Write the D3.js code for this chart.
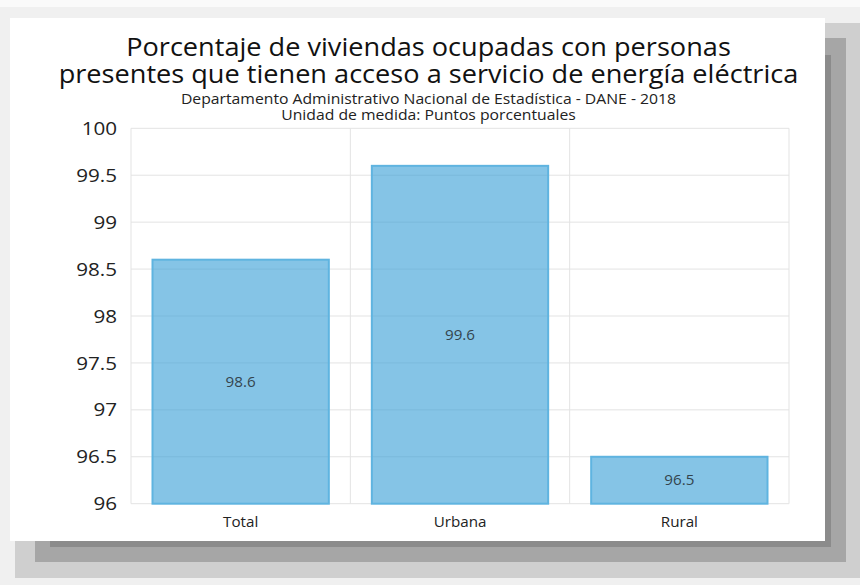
<!DOCTYPE html>
<html>
<head>
<meta charset="utf-8">
<script src="https://cdn.jsdelivr.net/npm/d3@7"></script>
<style>
  html, body { margin: 0; padding: 0; background: #fafafa; }
  svg { display: block; font-family: "Open Sans", "Noto Sans", sans-serif; }
</style>
</head>
<body>
<svg id="chart" width="860" height="585"></svg>
<script>
// Chart data
const categories = ["Total", "Urbana", "Rural"];
const values = [98.6, 99.6, 96.5];
const yTicks = [96, 96.5, 97, 97.5, 98, 98.5, 99, 99.5, 100];
const titleLines = [
  "Porcentaje de viviendas ocupadas con personas",
  "presentes que tienen acceso a servicio de energía eléctrica"
];
const subtitleLines = [
  "Departamento Administrativo Nacional de Estadística - DANE - 2018",
  "Unidad de medida: Puntos porcentuales"
];

// Text in this chart is set slightly wide
const WIDEN = 1.085;
function widen(sel) {
  sel.each(function () {
    const w = this.getComputedTextLength();
    d3.select(this).attr("textLength", w * WIDEN).attr("lengthAdjust", "spacingAndGlyphs");
  });
}

const svg = d3.select("#chart");

// Card with a stepped drop shadow
const shadowSteps = [
  { x0: 0,  y0: 7,  x1: 860, y1: 585, c: "#f0f0f0" },
  { x0: 15, y0: 23, x1: 860, y1: 578, c: "#cfcfcf" },
  { x0: 35, y0: 38, x1: 846, y1: 562, c: "#a6a6a6" },
  { x0: 50, y0: 55, x1: 831, y1: 547, c: "#8b8b8b" }
];
svg.selectAll("rect.shadow").data(shadowSteps).join("rect")
  .attr("class", "shadow")
  .attr("x", d => d.x0).attr("y", d => d.y0)
  .attr("width", d => d.x1 - d.x0).attr("height", d => d.y1 - d.y0)
  .attr("fill", d => d.c);
svg.append("rect").attr("x", 10).attr("y", 18).attr("width", 815).attr("height", 523).attr("fill", "#ffffff");

// Titles
const cx = 428.5;
svg.selectAll("text.title").data(titleLines).join("text")
  .attr("class", "title")
  .attr("x", cx).attr("y", (d, i) => 56 + i * 26.5)
  .attr("text-anchor", "middle")
  .attr("font-size", 25)
  .attr("fill", "#111")
  .text(d => d)
  .call(widen);
svg.selectAll("text.subtitle").data(subtitleLines).join("text")
  .attr("class", "subtitle")
  .attr("x", cx).attr("y", (d, i) => 103.5 + i * 16)
  .attr("text-anchor", "middle")
  .attr("font-size", 14.5)
  .attr("fill", "#222")
  .text(d => d)
  .call(widen);

// Plot area
const plotLeft = 131, plotRight = 789, plotTop = 128.3, plotBottom = 503.7;
const x = d3.scaleBand().domain(categories).range([plotLeft, plotRight]).paddingInner(0).paddingOuter(0);
const y = d3.scaleLinear().domain([96, 100]).range([plotBottom, plotTop]);
const barPad = 21.5;

const g = svg.append("g");

// Horizontal gridlines
g.selectAll("line.hgrid").data(yTicks).join("line")
  .attr("class", "hgrid")
  .attr("x1", plotLeft).attr("x2", plotRight)
  .attr("y1", d => y(d)).attr("y2", d => y(d))
  .attr("stroke", "#e3e3e3").attr("stroke-width", 1);

// Vertical category separators
const edges = categories.map(c => x(c)).concat([x(categories[categories.length - 1]) + x.bandwidth()]);
g.selectAll("line.vgrid").data(edges).join("line")
  .attr("class", "vgrid")
  .attr("x1", d => d).attr("x2", d => d)
  .attr("y1", plotTop).attr("y2", plotBottom)
  .attr("stroke", "#e3e3e3").attr("stroke-width", 1);

// Bars
const data = categories.map((c, i) => ({ c, v: values[i] }));
g.selectAll("rect.bar").data(data).join("rect")
  .attr("class", "bar")
  .attr("x", d => x(d.c) + barPad)
  .attr("y", d => y(d.v))
  .attr("width", x.bandwidth() - 2 * barPad)
  .attr("height", d => y(96) - y(d.v))
  .attr("fill", "rgb(58,160,214)").attr("fill-opacity", 0.62)
  .attr("stroke", "rgb(95,180,224)").attr("stroke-width", 2);

// Value labels inside bars
g.selectAll("text.val").data(data).join("text")
  .attr("class", "val")
  .attr("x", d => x(d.c) + x.bandwidth() / 2)
  .attr("y", d => (y(d.v) + y(96)) / 2)
  .attr("dy", "0.35em")
  .attr("text-anchor", "middle")
  .attr("font-size", 14)
  .attr("fill", "#34444e")
  .text(d => d.v)
  .call(widen);

// Y axis labels
const yAxis = d3.axisLeft(y).tickValues(yTicks).tickSize(0).tickPadding(14)
  .tickFormat(d => String(d));
const ya = svg.append("g").attr("transform", `translate(${plotLeft},0)`).call(yAxis);
ya.select(".domain").remove();
ya.selectAll("text").attr("font-size", 19).attr("fill", "#222")
  .attr("font-family", "'Open Sans', 'Noto Sans', sans-serif")
  .call(widen);

// X axis labels
const xAxis = d3.axisBottom(x).tickSize(0).tickPadding(13);
const xa = svg.append("g").attr("transform", `translate(0,${plotBottom})`).call(xAxis);
xa.select(".domain").remove();
xa.selectAll("text").attr("font-size", 14).attr("fill", "#222")
  .attr("font-family", "'Open Sans', 'Noto Sans', sans-serif")
  .call(widen);
</script>
</body>
</html>
